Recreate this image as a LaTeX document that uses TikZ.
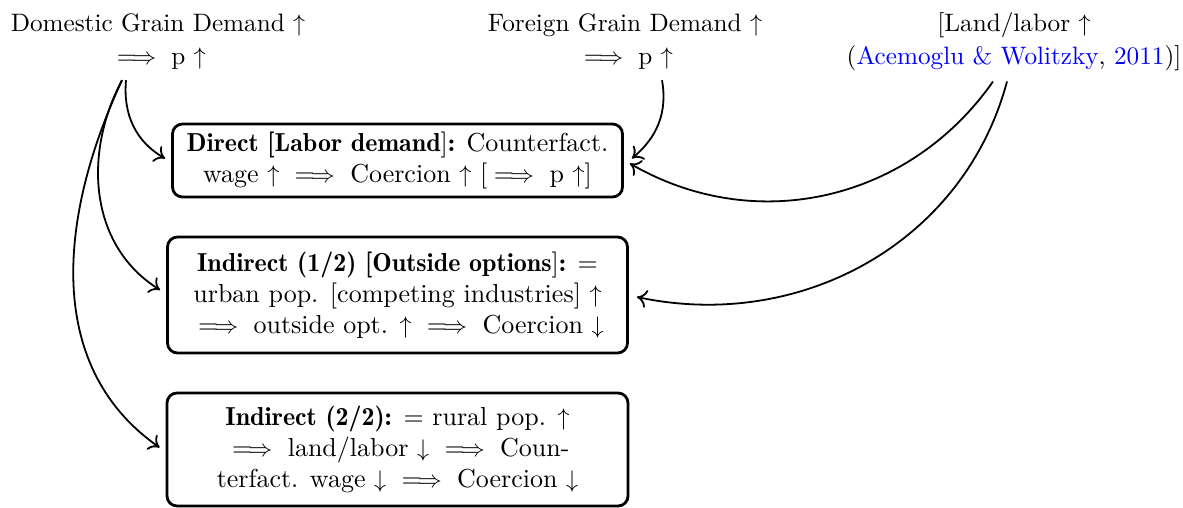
\documentclass[tikz,border=0pt]{standalone}
\usepackage{amsmath}
\usepackage{fontspec}
\setmainfont{lmroman10-regular.otf}[BoldFont=lmromandemi10-regular.otf, ItalicFont=lmroman10-italic.otf]
\usetikzlibrary{calc,arrows.meta}
\definecolor{citeblue}{RGB}{0,0,255}
\tikzset{
  txt/.style={align=center, inner sep=0pt, font=\fontsize{12.6}{16.5}\selectfont},
  boxnode/.style={draw, rounded corners=5pt, line width=1.4pt, align=center, inner sep=2pt, font=\fontsize{13}{15.5}\selectfont},
  conn/.style={-{To[length=5pt,width=9pt]}, line width=0.9pt},
}
\begin{document}
\begin{tikzpicture}[x=0.5pt,y=0.5pt]
\useasboundingbox (0,0) rectangle (1183,-508);
\node[txt] (dom) at (158,-42) {Domestic Grain Demand $\uparrow$\\ $\implies$ p $\uparrow$};
\node[txt] (for) at (625,-42) {Foreign Grain Demand $\uparrow$\\ $\implies$ p $\uparrow$};
\node[txt] (land) at (1014,-42) {[Land/labor $\uparrow$\\ (\textcolor{citeblue}{Acemoglu \& Wolitzky}, \textcolor{citeblue}{2011})]};
\node[boxnode, minimum width=225pt, minimum height=36.5pt] (b1) at (397.5,-160.5)
  {\textbf{Direct [Labor demand}]\textbf{:} Counterfact.\\ wage $\uparrow$ $\implies$ Coercion $\uparrow$ [$\implies$ p $\uparrow$]};
\node[boxnode, minimum width=230pt, minimum height=58pt] (b2) at (397.5,-295)
  {\textbf{Indirect (1/2) [Outside options}]\textbf{:} =\\ urban pop. [competing industries] $\uparrow$\\ $\implies$ outside opt. $\uparrow$ $\implies$ Coercion $\downarrow$};
\node[boxnode, minimum width=230.5pt, minimum height=56.5pt] (b3) at (397.5,-449.5)
  {\textbf{Indirect (2/2):} = rural pop. $\uparrow$\\ $\implies$ land/labor $\downarrow$ $\implies$ Coun-\\terfact. wage $\downarrow$ $\implies$ Coercion $\downarrow$};
\coordinate (d1) at ($(dom.south)+(-32,-10)$);
\coordinate (d2) at ($(dom.south)+(-36,-10)$);
\coordinate (f1) at ($(for.south)+(37,-10)$);
\coordinate (l1) at ($(land.south)+(-21,-10)$);
\coordinate (l2) at ($(land.south)+(-7,-10)$);
\draw[conn] (d1) to[out=-95,in=150] ($(b1.west)+(-6,2)$);
\draw[conn] (d2) to[out=-118,in=148] ($(b2.west)+(-6,5)$);
\draw[conn] (d2) to[out=-115,in=145] ($(b3.west)+(-6,2)$);
\draw[conn] (f1) to[out=-80,in=40] ($(b1.east)+(8,2)$);
\draw[conn] (l1) to[out=-125,in=-30] ($(b1.east)+(6,-3)$);
\draw[conn] (l2) to[out=-105,in=-12] ($(b2.east)+(8,-2)$);
\end{tikzpicture}
\end{document}
